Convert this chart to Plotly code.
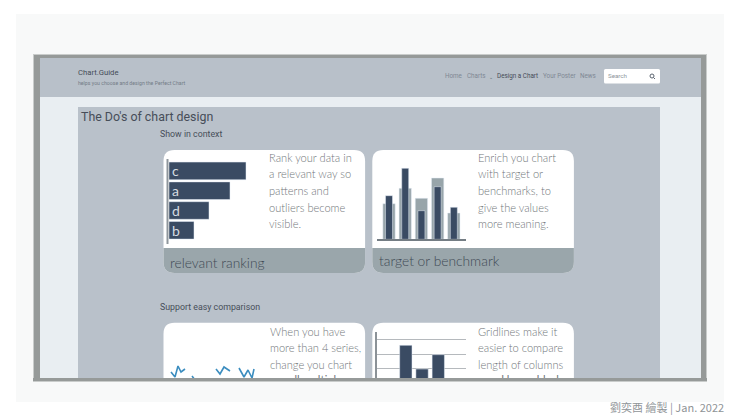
import plotly.graph_objects as go

W, H = 740, 416

# values
rank_labels = ['c', 'a', 'd', 'b']
rank_values = [77, 61, 40, 25]

bench_cats = [0, 1, 2, 3, 4]
bench_target = [35.6, 51, 41, 61.3, 26.3]
bench_actual = [43.6, 71, 28.6, 52.6, 32]

small_x = [[7, 11, 14, 17, 21], [28, 31], [52, 56, 60, 66], [75, 80, 84, 88, 90]]
small_y = [[6, 1, 12, 6, 9], [2, -2], [9, 4, 11, 7], [10, 1, 8, 0, 9]]

grid_cats = [0, 1, 2]
grid_values = [3.62, 1.95, 2.96]
grid_ticks = [2, 3, 4]

nav_items = ['Home', 'Charts', 'Design a Chart', 'Your Poster', 'News']
nav_x = [445, 467, 497, 543, 580]

card_text = {
    (269, 157): ['Rank your data in', 'a relevant way so', 'patterns and', 'outliers become', 'visible.'],
    (478, 157): ['Enrich you chart', 'with target or', 'benchmarks, to', 'give the values', 'more meaning.'],
    (270, 331): ['When you have', 'more than 4 series,', 'change you chart'],
    (478, 331): ['Gridlines make it', 'easier to compare', 'length of columns'],
}

DARK = '#3a4b63'
GREY_BAR = '#98a5aa'
BLUE = '#3b8dbf'
PAGE = '#b9c1ca'
CARD_FONT = 'Lato'
CARD_SIZE = 11.1


def px(x):
    return x / W


def py(y):
    return 1 - y / H


def dom_x(a, b):
    return [px(a), px(b)]


def dom_y(top, bottom):
    return [py(bottom), py(top)]


shapes = []
annotations = []


def rect(x0, y0, x1, y1, color, layer='below'):
    shapes.append(dict(type='rect', xref='paper', yref='paper', x0=px(x0), x1=px(x1),
                       y0=py(y1), y1=py(y0), fillcolor=color, line_width=0, layer=layer))


def round_rect(x0, y0, x1, y1, r, color, top_only=False, bottom_only=False):
    # rounded box as svg path, on the full-figure pixel axes
    rt = 0 if bottom_only else r
    rb = 0 if top_only else r
    path = (f'M {x0 + rt},{H - y0} L {x1 - rt},{H - y0} Q {x1},{H - y0} {x1},{H - y0 - rt} '
            f'L {x1},{H - y1 + rb} Q {x1},{H - y1} {x1 - rb},{H - y1} '
            f'L {x0 + rb},{H - y1} Q {x0},{H - y1} {x0},{H - y1 + rb} '
            f'L {x0},{H - y0 - rt} Q {x0},{H - y0} {x0 + rt},{H - y0} Z')
    shapes.append(dict(type='path', xref='x', yref='y', path=path, fillcolor=color,
                       line_width=0, layer='below'))


def label(x, y, text, size, color, family='Roboto', anchor='left', weight=None):
    font = dict(family=family, size=size, color=color)
    if weight:
        font['weight'] = weight
    annotations.append(dict(xref='paper', yref='paper', x=px(x), y=py(y), text=text, showarrow=False,
                            xanchor=anchor, yanchor='middle', font=font, borderpad=0, borderwidth=0))


# page frame, the lighter box gives the soft edge of the shadow
rect(16, 14, 724, 402, '#f8f9f9')
rect(33, 54, 707, 382, '#c9cccb')
rect(34, 55, 706, 381, '#969a99')
rect(40, 58, 701, 378, '#e9eef2')
rect(40, 58, 701, 97, '#b8c0c9')
rect(78, 107, 660, 378, PAGE)

# cards
for x0 in [163.5, 372.3]:
    round_rect(x0, 150, x0 + 201.6, 273, 11, 'white')
    round_rect(x0, 248, x0 + 201.6, 273, 11, '#9aa6ab', bottom_only=True)
    round_rect(x0, 322.7, x0 + 201.6, 400, 11, 'white')

# header
label(78, 73, 'Chart.Guide', 7.7, '#454c57')
label(78, 83, 'helps you choose and design the Perfect Chart', 5.2, '#737c86')
for name, x in zip(nav_items, nav_x):
    active = name == 'Design a Chart'
    label(x, 76, name, 6.3, '#454c57' if active else '#7f8894')
label(489.5, 76.5, '⌄', 5, '#5b6470')
round_rect(604, 69, 660, 83.5, 1.5, 'white')
label(608, 76, 'Search', 6.2, '#8d949b')
shapes.append(dict(type='circle', xref='paper', yref='paper', x0=px(650), x1=px(654),
                   y0=py(78), y1=py(74), line=dict(color='#5b6470', width=1), layer='above'))
shapes.append(dict(type='line', xref='paper', yref='paper', x0=px(653.6), x1=px(655),
                   y0=py(77.6), y1=py(79), line=dict(color='#5b6470', width=1), layer='above'))

# headings
label(81, 116, "The Do's of chart design", 12.4, '#474e59')
label(160, 134, 'Show in context', 8.8, '#474e59')
label(160, 307, 'Support easy comparison', 8.8, '#474e59')

# card copy
for (x, y0), lines in card_text.items():
    for i, line in enumerate(lines):
        label(x, y0 + i * 16.7, line, CARD_SIZE, '#72777b', CARD_FONT, weight=300)
label(170, 262, 'relevant ranking', 13.8, '#3f4a55', CARD_FONT, weight=300)
label(379, 260, 'target or benchmark', 13.8, '#3f4a55', CARD_FONT, weight=300)

# axis line of the ranking chart
shapes.append(dict(type='line', xref='paper', yref='paper', x0=px(167.5), x1=px(167.5),
                   y0=py(159), y1=py(244), line=dict(color='#8f969c', width=2)))

fig = go.Figure()

# the text lines cut off by the page edge sit under the covers added further down
fig.add_trace(go.Scatter(x=[275, 486], y=[H - 381, H - 381], mode='text',
                         text=['small multiples', 'and lower black'], textposition='middle right',
                         textfont=dict(family=CARD_FONT, size=CARD_SIZE, color='#72777b'),
                         hoverinfo='skip', showlegend=False))

# ranking bars
fig.add_trace(go.Bar(y=rank_labels, x=rank_values, orientation='h', xaxis='x2', yaxis='y2',
                     marker_color=DARK, width=0.89, text=rank_labels, textposition='inside',
                     insidetextanchor='start', textangle=0, constraintext='none',
                     textfont=dict(family=CARD_FONT, size=14, color='#d5dbe1')))

# target and actual columns
fig.add_trace(go.Bar(x=bench_cats, y=bench_target, xaxis='x3', yaxis='y3', marker_color=GREY_BAR, width=0.76))
fig.add_trace(go.Bar(x=bench_cats, y=bench_actual, xaxis='x3', yaxis='y3', marker_color=DARK, width=0.43))

# small line series, they run off the bottom of the page
for xs, ys in zip(small_x, small_y):
    fig.add_trace(go.Scatter(x=xs, y=ys, mode='lines', xaxis='x4', yaxis='y4',
                             line=dict(color=BLUE, width=1.6)))

# columns with gridlines
fig.add_trace(go.Bar(x=grid_cats, y=grid_values, xaxis='x5', yaxis='y5', marker_color=DARK, width=0.76))

# everything under the page edge is covered again
rect(33, 378, 707, 381, '#969a99', layer='above')
rect(16, 381, 724, 402, '#f8f9f9', layer='above')
rect(33, 381, 707, 382, '#c9cccb', layer='above')
rect(0, 402, W, H, 'white', layer='above')

label(724, 407, '劉奕酉 繪製 | Jan. 2022', 11, '#8f9497', 'Noto Sans CJK TC', anchor='right')

hidden = dict(visible=False, fixedrange=True)

fig.update_layout(
    width=W, height=H, margin=dict(l=0, r=0, t=0, b=0, pad=0), autosize=False,
    paper_bgcolor='white', plot_bgcolor='rgba(0,0,0,0)', showlegend=False,
    barmode='overlay', hovermode=False,
    shapes=shapes, annotations=annotations,
    xaxis=dict(domain=[0, 1], range=[0, W], **hidden),
    yaxis=dict(domain=[0, 1], range=[0, H], **hidden),
    xaxis2=dict(domain=dom_x(169, 269), range=[0, 100], anchor='y2', **hidden),
    yaxis2=dict(domain=dom_y(161, 240.2), autorange='reversed', type='category', anchor='x2', **hidden),
    xaxis3=dict(domain=dom_x(376.7, 466), range=[-0.76, 4.75], anchor='y3', fixedrange=True,
                showline=True, linecolor='#747d84', linewidth=1.5, showticklabels=False, ticks='', showgrid=False, zeroline=False),
    yaxis3=dict(domain=dom_y(159.3, 239.3), range=[0, 80], anchor='x3', **hidden),
    xaxis4=dict(domain=dom_x(164, 262), range=[0, 98], anchor='y4', **hidden),
    yaxis4=dict(domain=dom_y(358, 398), range=[-20, 20], anchor='x4', **hidden),
    xaxis5=dict(domain=dom_x(377.3, 466), range=[-1.76, 3.71], anchor='y5', **hidden),
    yaxis5=dict(domain=dom_y(331.7, 396.7), range=[0, 4.58], anchor='x5', fixedrange=True,
                tickvals=grid_ticks, showgrid=True, gridcolor='#b5b9bd', gridwidth=1, showline=True,
                linecolor='#8b9297', linewidth=1.5, showticklabels=False, ticks='', zeroline=False),
)

fig.write_html('out.html', config={'displayModeBar': False},
               post_script="document.body.style.margin='0';")
